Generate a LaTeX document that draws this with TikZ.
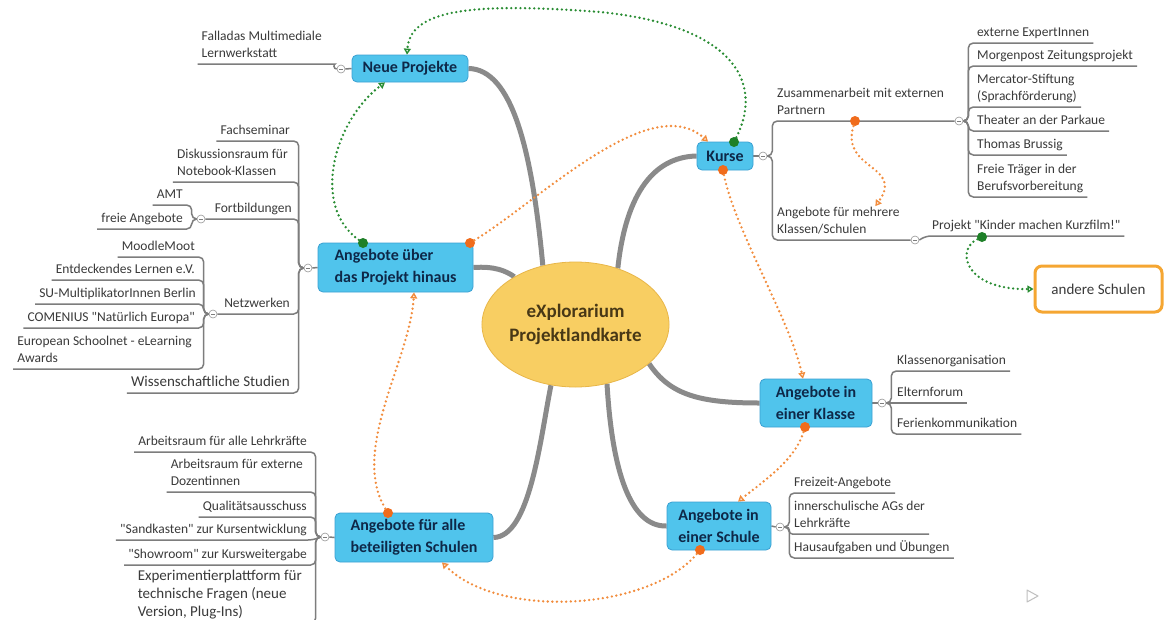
\documentclass[tikz,border=0pt]{standalone}
\usepackage{fontspec}
\setmainfont{Carlito}[Ligatures=TeXOff]
\usetikzlibrary{arrows.meta,shapes.geometric}
\pgfdeclarelayer{back}
\pgfsetlayers{back,main}
\definecolor{boxblue}{RGB}{80,196,236}
\definecolor{boxedge}{RGB}{58,160,210}
\definecolor{boxtext}{RGB}{14,40,72}
\definecolor{rootfill}{RGB}{248,206,98}
\definecolor{rootedge}{RGB}{232,182,72}
\definecolor{roottext}{RGB}{72,56,22}
\definecolor{trunkgray}{RGB}{138,138,138}
\definecolor{linegray}{RGB}{125,125,125}
\definecolor{txtgray}{RGB}{58,58,58}
\definecolor{relorange}{RGB}{242,140,60}
\definecolor{dotorange}{RGB}{240,108,28}
\definecolor{relgreen}{RGB}{40,140,50}
\definecolor{dotgreen}{RGB}{30,128,40}
\definecolor{frameorange}{RGB}{245,166,50}
\begin{document}
\begin{tikzpicture}[x=1pt,y=-1pt,
 topic/.style={rectangle, rounded corners=5pt, fill=boxblue, draw=boxedge, line width=0.8pt, text=boxtext, font=\fontsize{16}{22}\selectfont\bfseries, align=left, inner sep=0pt},
 lbl/.style={inner xsep=0pt, inner ysep=1pt, font=\fontsize{13.5}{17}\selectfont, text=txtgray, align=left},
 lblbig/.style={lbl, font=\fontsize{15}{18}\selectfont},
 knob/.style={circle, draw=linegray!80, fill=white, line width=0.6pt, minimum size=8pt, inner sep=0pt, path picture={\draw[linegray, line width=0.6pt] ([xshift=-2pt]path picture bounding box.center) -- ([xshift=2pt]path picture bounding box.center);}},
 branch/.style={draw=linegray, line width=1.5pt, rounded corners=5pt},
 trunkline/.style={draw=trunkgray, line width=5pt},
 rel/.style={line width=2.6pt, dash pattern=on 0pt off 4.6pt, line cap=round},
 relO/.style={rel, draw=relorange, -{Triangle[open, length=6pt, width=7pt, line width=1.4pt]}},
 relG/.style={rel, draw=relgreen, -{Triangle[open, length=6pt, width=7pt, line width=1.4pt]}},
 dotO/.style={circle, fill=dotorange, minimum size=10pt, inner sep=0pt},
 dotG/.style={circle, fill=dotgreen, minimum size=10pt, inner sep=0pt},
]
\useasboundingbox (0,0) rectangle (1174,619);
\begin{pgfonlayer}{back}
\fill[white] (0,0) rectangle (1174,619);
\end{pgfonlayer}

% central topic
\node[ellipse, fill=rootfill, draw=rootedge, line width=0.8pt, minimum width=175pt, minimum height=125pt, inner sep=0pt, text=roottext, font=\fontsize{19}{24}\selectfont\bfseries, align=center] (root) at (575.5,324.5) {eXplorarium\\Projektlandkarte};

% main topics
\node[topic, minimum width=116pt, minimum height=27pt] (np) at (410,68.5) {Neue Projekte};
\node[topic, minimum width=155pt, minimum height=49pt] (ub) at (395.5,267.5) {Angebote über\\das Projekt hinaus};
\node[topic, minimum width=158pt, minimum height=49pt] (bs) at (414,537.5) {Angebote für alle\\beteiligten Schulen};
\node[topic, minimum width=56pt, minimum height=28pt] (ku) at (725,156) {Kurse};
\node[topic, minimum width=112pt, minimum height=48pt] (kl) at (816,403) {Angebote in\\einer Klasse};
\node[topic, minimum width=104pt, minimum height=48pt] (sc) at (719,526) {Angebote in\\einer Schule};
\node[rectangle, rounded corners=7pt, draw=frameorange, line width=3pt, fill=white, minimum width=127pt, minimum height=46pt, font=\fontsize{15}{18}\selectfont, text=txtgray] (as) at (1098.5,289) {andere Schulen};

% knobs
\node[knob] (knp) at (341,69) {};
\node[knob] (kub) at (308,268) {};
\node[knob] (kfb) at (201,219) {};
\node[knob] (knw) at (213,314) {};
\node[knob] (kbs) at (325,537) {};
\node[knob] (kku) at (763,156) {};
\node[knob] (kza) at (959,121) {};
\node[knob] (kmk) at (915,240) {};
\node[knob] (kkl) at (882,403) {};
\node[knob] (ksc) at (780,527) {};

% left labels
\node[lbl, anchor=south east] (tfal) at (322,64) {Falladas Multimediale\\Lernwerkstatt\strut};
\node[lbl, anchor=south east] (tfach) at (290,141) {Fachseminar\strut};
\node[lbl, anchor=south east] (tdisk) at (288,182) {Diskussionsraum für\\Notebook-Klassen\strut};
\node[lbl, anchor=south east] (tfort) at (292,219) {Fortbildungen\strut};
\node[lbl, anchor=south east] (tnetz) at (290,314) {Netzwerken\strut};
\node[lblbig, anchor=south east] (twiss) at (290,393) {Wissenschaftliche Studien\strut};
\node[lbl, anchor=south east] (tamt) at (183,205) {AMT\strut};
\node[lbl, anchor=south east] (tfrei) at (183,229) {freie Angebote\strut};
\node[lbl, anchor=south east] (tmood) at (195,257) {MoodleMoot\strut};
\node[lbl, anchor=south east] (tentd) at (195,280) {Entdeckendes Lernen e.V.\strut};
\node[lbl, anchor=south east] (tsu) at (196,304) {SU-MultiplikatorInnen Berlin\strut};
\node[lbl, anchor=south east] (tcom) at (195,328) {COMENIUS "Natürlich Europa"\strut};
\node[lbl, anchor=south east] (teur) at (192,369) {European Schoolnet - eLearning\\Awards\strut};
\node[lbl, anchor=south east] (tarb1) at (307,452) {Arbeitsraum für alle Lehrkräfte\strut};
\node[lbl, anchor=south east] (tarb2) at (303,492) {Arbeitsraum für externe\\Dozentinnen\strut};
\node[lbl, anchor=south east] (tqual) at (307,517) {Qualitätsausschuss\strut};
\node[lbl, anchor=south east] (tsand) at (307,540) {"Sandkasten" zur Kursentwicklung\strut};
\node[lbl, anchor=south east] (tshow) at (307,565) {"Showroom" zur Kursweitergabe\strut};
\node[lblbig, anchor=south east] (texp) at (302,623) {Experimentierplattform für\\technische Fragen (neue\\Version, Plug-Ins)\strut};

% right labels
\node[lbl, anchor=south west] (tzus) at (777,121) {Zusammenarbeit mit externen\\Partnern\strut};
\node[lbl, anchor=south west] (tmeh) at (777,240) {Angebote für mehrere\\Klassen/Schulen\strut};
\node[lbl, anchor=south west] (text) at (977,43) {externe ExpertInnen\strut};
\node[lbl, anchor=south west] (tmor) at (977,66) {Morgenpost Zeitungsprojekt\strut};
\node[lbl, anchor=south west] (tmer) at (977,107) {Mercator-Stiftung\\(Sprachförderung)\strut};
\node[lbl, anchor=south west] (tthe) at (977,131) {Theater an der Parkaue\strut};
\node[lbl, anchor=south west] (ttho) at (977,155) {Thomas Brussig\strut};
\node[lbl, anchor=south west] (tfre) at (977,197) {Freie Träger in der\\Berufsvorbereitung\strut};
\node[lbl, anchor=south west] (tkin) at (932,236) {Projekt "Kinder machen Kurzfilm!"\strut};
\node[lbl, anchor=south west] (tkla) at (897,371) {Klassenorganisation\strut};
\node[lbl, anchor=south west] (telt) at (897,403) {Elternforum\strut};
\node[lbl, anchor=south west] (tfer) at (897,434) {Ferienkommunikation\strut};
\node[lbl, anchor=south west] (tfrz) at (794,493) {Freizeit-Angebote\strut};
\node[lbl, anchor=south west] (tinn) at (794,534) {innerschulische AGs der\\Lehrkräfte\strut};
\node[lbl, anchor=south west] (thau) at (794,558) {Hausaufgaben und Übungen\strut};

\begin{pgfonlayer}{back}
% thick main connectors
\draw[trunkline] (np.east) .. controls (512,69) and (532,150) .. (root.119);
\draw[trunkline] (ku.west) .. controls (650,157) and (625,200) .. (root.53);
\draw[trunkline] (ub.east) .. controls (495,266) and (506,271) .. (root.142);
\draw[trunkline] (root.-28) .. controls (670,395) and (700,403) .. (kl.west);
\draw[trunkline] (root.248) .. controls (540,440) and (530,537) .. (bs.east);
\draw[trunkline] (root.-62) .. controls (612,470) and (630,527) .. (sc.west);

% knob to topic
\draw[branch] (np.west) -- (knp.east);
\draw[branch] (ub.west) -- (kub.east);
\draw[branch] (bs.west) -- (kbs.east);
\draw[branch] (ku.east) -- (kku.west);
\draw[branch] (kl.east) -- (kkl.west);
\draw[branch] (sc.east) -- (ksc.west);

% Neue Projekte
\draw[branch] (knp.west) to[out=180,in=0] ([xshift=8pt]tfal.south east) -- ([xshift=-4pt]tfal.south west);
% Angebote ueber
\draw[branch] (kub.west) -- ++(-5,0) |- ([xshift=-4pt]tfach.south west);
\draw[branch] (kub.west) -- ++(-5,0) |- ([xshift=-4pt]tdisk.south west);
\draw[branch] (kub.west) -- ++(-5,0) |- (kfb.east);
\draw[branch] (kub.west) -- ++(-5,0) |- (knw.east);
\draw[branch] (kub.west) -- ++(-5,0) |- ([xshift=-4pt]twiss.south west);
\draw[branch] (kfb.west) -- ++(-5,0) |- ([xshift=-4pt]tamt.south west);
\draw[branch] (kfb.west) -- ++(-5,0) |- ([xshift=-4pt]tfrei.south west);
\draw[branch] (knw.west) -- ++(-5,0) |- ([xshift=-4pt]tmood.south west);
\draw[branch] (knw.west) -- ++(-5,0) |- ([xshift=-4pt]tentd.south west);
\draw[branch] (knw.west) -- ++(-5,0) |- ([xshift=-4pt]tsu.south west);
\draw[branch] (knw.west) -- ++(-5,0) |- ([xshift=-4pt]tcom.south west);
\draw[branch] (knw.west) -- ++(-5,0) |- ([xshift=-4pt]teur.south west);
% beteiligte Schulen
\draw[branch] (kbs.west) -- ++(-5,0) |- ([xshift=-4pt]tarb1.south west);
\draw[branch] (kbs.west) -- ++(-5,0) |- ([xshift=-4pt]tarb2.south west);
\draw[branch] (kbs.west) -- ++(-5,0) |- ([xshift=-4pt]tqual.south west);
\draw[branch] (kbs.west) -- ([xshift=6pt]tsand.south east) -- ([xshift=-4pt]tsand.south west);
\draw[branch] (kbs.west) -- ++(-5,0) |- ([xshift=-4pt]tshow.south west);
\draw[branch] (kbs.west) -- ++(-5,0) |- ([xshift=-4pt]texp.south west);
% Kurse
\draw[branch] (kku.east) -- ++(5,0) |- (kza.west);
\draw[branch] (kku.east) -- ++(5,0) |- (kmk.west);
\draw[branch] (kza.east) -- ++(5,0) |- ([xshift=4pt]text.south east);
\draw[branch] (kza.east) -- ++(5,0) |- ([xshift=4pt]tmor.south east);
\draw[branch] (kza.east) -- ++(5,0) |- ([xshift=4pt]tmer.south east);
\draw[branch] (kza.east) -- ++(5,0) |- ([xshift=4pt]tthe.south east);
\draw[branch] (kza.east) -- ++(5,0) |- ([xshift=4pt]ttho.south east);
\draw[branch] (kza.east) -- ++(5,0) |- ([xshift=4pt]tfre.south east);
\draw[branch] (kmk.east) -- ([xshift=-6pt]tkin.south west) -- ([xshift=4pt]tkin.south east);
% Klasse
\draw[branch] (kkl.east) -- ++(5,0) |- ([xshift=4pt]tkla.south east);
\draw[branch] (kkl.east) -- ([xshift=4pt]telt.south east);
\draw[branch] (kkl.east) -- ++(5,0) |- ([xshift=4pt]tfer.south east);
% Schule
\draw[branch] (ksc.east) -- ++(5,0) |- ([xshift=4pt]tfrz.south east);
\draw[branch, rounded corners=3pt] (ksc.east) -- ++(5,0) |- ([xshift=4pt]tinn.south east);
\draw[branch] (ksc.east) -- ++(5,0) |- ([xshift=4pt]thau.south east);
\end{pgfonlayer}

% relationship dots
\node[dotG] (dg1) at (734,142) {};
\node[dotG] (dg2) at (363,243) {};
\node[dotO] (do1) at (470,243) {};
\node[dotO] (do2) at (723,170) {};
\node[dotO] (do3) at (855,121) {};
\node[dotG] (dg3) at (982,237) {};
\node[dotO] (do4) at (805,427) {};
\node[dotO] (do5) at (700,550) {};
\node[dotO] (do6) at (388,513) {};

% relationships
\draw[relG] (dg1) .. controls (765,80) and (730,25) .. (600,12) .. controls (470,2) and (410,10) .. ([xshift=-3pt]np.north);
\draw[relG] (dg2) .. controls (310,205) and (335,120) .. ([xshift=-25pt]np.south);
\draw[relO] (do1) .. controls (540,200) and (650,90) .. ([xshift=-17pt]ku.north);
\draw[relO] (do2) .. controls (735,230) and (790,320) .. ([xshift=-13pt]kl.north);
\draw[relO] (do3) .. controls (840,170) and (905,165) .. ([xshift=37pt]tmeh.north);
\draw[relG] (dg3) .. controls (955,250) and (965,290) .. (as.west);
\draw[relO] (do4) .. controls (795,460) and (765,480) .. ([xshift=19pt]sc.north);
\draw[relO] (do5) .. controls (650,610) and (500,620) .. ([xshift=28pt]bs.south);
\draw[relO] (do6) .. controls (350,450) and (410,360) .. ([xshift=18.5pt]ub.south);

% small play icon
\draw[black!25, line width=1pt, line join=round] (1027,590) -- (1038,596) -- (1027,602) -- cycle;
\end{tikzpicture}
\end{document}
